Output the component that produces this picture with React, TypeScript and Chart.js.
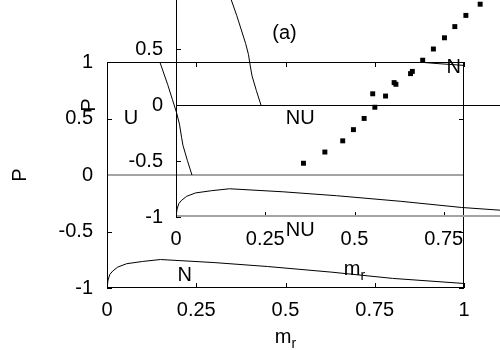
import React, { useEffect, useRef } from "react";
import { Chart, registerables } from "chart.js";

Chart.register(...registerables);

const FONT = "'Liberation Sans', Arial, Helvetica, sans-serif";

// axis ticks
const xTickValues = [0, 0.25, 0.5, 0.75, 1];
const xTickLabels = ["0", "0.25", "0.5", "0.75", "1"];
const yTickValues = [-1, -0.5, 0, 0.5, 1];
const yTickLabels = ["-1", "-0.5", "0", "0.5", "1"];

// U / NU boundary line (upper left)
const unBoundaryMr = [0.148, 0.17, 0.183, 0.195, 0.203, 0.209, 0.213, 0.225, 0.238];
const unBoundaryP = [1.0, 0.8, 0.67, 0.55, 0.45, 0.33, 0.26, 0.13, 0.0];

// lower N boundary curve
const nBoundaryMr = [0, 0.003, 0.008, 0.016, 0.03, 0.055, 0.1, 0.15, 0.3, 0.45, 0.63, 0.8, 1];
const nBoundaryP = [-1, -0.93, -0.88, -0.85, -0.815, -0.785, -0.765, -0.748, -0.775, -0.81, -0.86, -0.915, -0.96];

// short upper-right curve (main panel)
const topEdgeMr = [0.87, 0.93, 1.0];
const topEdgeP = [1.0, 0.985, 0.97];

// square markers (inset panel)
const squaresMr = [0.357, 0.417, 0.467, 0.497, 0.527, 0.557, 0.551, 0.587, 0.611, 0.616, 0.657, 0.662, 0.691, 0.721, 0.752, 0.781, 0.812, 0.852];
const squaresP = [-0.52, -0.42, -0.32, -0.22, -0.12, -0.02, 0.1, 0.08, 0.2, 0.185, 0.28, 0.3, 0.4, 0.5, 0.6, 0.7, 0.8, 0.9];

// region labels
const mainLabelText = ["U", "NU", "NU", "N", "N"];
const mainLabelMr = [0.067, 0.541, 0.541, 0.971, 0.218];
const mainLabelP = [0.504, 0.504, -0.487, 0.951, -0.889];
const insetLabelText = ["(a)"];
const insetLabelMr = [0.304];
const insetLabelP = [0.64];

const GRAY = "#a4a4a4";

const toXY = (xs: number[], ys: number[]) => xs.map((x, i) => ({ x, y: ys[i] }));

const framePlugin = {
  id: "frame",
  beforeDatasetsDraw(chart: any, _a: any, o: any) {
    const { ctx, chartArea: a, scales } = chart;
    const xs = scales.x;
    const ys = scales.y;
    ctx.save();
    ctx.lineWidth = 1;
    // ticks (inward, mirrored)
    ctx.strokeStyle = "#000";
    ctx.beginPath();
    for (const v of xTickValues) {
      const px = Math.round(xs.getPixelForValue(v)) + 0.5;
      ctx.moveTo(px, a.bottom);
      ctx.lineTo(px, a.bottom - 5);
      ctx.moveTo(px, a.top);
      ctx.lineTo(px, a.top + 5);
    }
    for (const v of yTickValues) {
      const py = Math.round(ys.getPixelForValue(v)) + 0.5;
      ctx.moveTo(a.left, py);
      ctx.lineTo(a.left + 5, py);
      ctx.moveTo(a.right, py);
      ctx.lineTo(a.right - 5, py);
    }
    ctx.stroke();
    const edge = (c: string, x1: number, y1: number, x2: number, y2: number) => {
      const gray = c !== "#000";
      ctx.strokeStyle = c;
      ctx.lineWidth = gray ? 2 : 1;
      const off = gray ? 0 : 0.5;
      ctx.beginPath();
      if (y1 === y2) {
        ctx.moveTo(x1, Math.round(y1) + off);
        ctx.lineTo(x2, Math.round(y2) + off);
      } else {
        ctx.moveTo(Math.round(x1) + off, y1);
        ctx.lineTo(Math.round(x2) + off, y2);
      }
      ctx.stroke();
    };
    // zero line
    const y0 = ys.getPixelForValue(0);
    edge(o.zeroColor, a.left, y0, a.right, y0);
    // borders
    edge(o.top, a.left, a.top, a.right, a.top);
    edge(o.bottom, a.left, a.bottom - 1, a.right, a.bottom - 1);
    edge(o.left, a.left, a.top, a.left, a.bottom);
    edge(o.right, a.right - 1, a.top, a.right - 1, a.bottom);
    ctx.restore();
  },
  afterDatasetsDraw(chart: any, _a: any, o: any) {
    const { ctx, chartArea: a, scales } = chart;
    const xs = scales.x;
    const ys = scales.y;
    ctx.save();
    ctx.fillStyle = "#000";
    ctx.font = `20px ${FONT}`;
    ctx.textAlign = "center";
    ctx.textBaseline = "middle";
    o.labels.text.forEach((t: string, i: number) => {
      ctx.fillText(t, xs.getPixelForValue(o.labels.mr[i]), ys.getPixelForValue(o.labels.p[i]));
    });
    // y title
    ctx.save();
    ctx.translate(a.left - 87, (a.top + a.bottom) / 2);
    ctx.rotate(-Math.PI / 2);
    ctx.fillText("P", 0, 0);
    ctx.restore();
    // x title m_r
    ctx.textAlign = "left";
    ctx.textBaseline = "alphabetic";
    ctx.font = `20px ${FONT}`;
    const wm = ctx.measureText("m").width;
    ctx.font = `14px ${FONT}`;
    const wr = ctx.measureText("r").width;
    const sx = (a.left + a.right) / 2 - (wm + wr) / 2;
    const by = a.bottom + o.titleOffset;
    ctx.font = `20px ${FONT}`;
    ctx.fillText("m", sx, by);
    ctx.font = `14px ${FONT}`;
    ctx.fillText("r", sx + wm, by + 5);
    ctx.restore();
  },
};

function makeChart(canvas: HTMLCanvasElement, cfg: any) {
  const area = cfg.area;
  return new Chart(canvas, {
    type: "scatter",
    data: { datasets: cfg.datasets },
    options: {
      responsive: false,
      animation: false,
      devicePixelRatio: 1,
      events: [],
      layout: { padding: { top: area.top, right: 500 - area.right, left: 0, bottom: 0 } },
      plugins: {
        legend: { display: false },
        tooltip: { enabled: false },
        frame: cfg.frame,
      } as any,
      scales: {
        x: {
          type: "linear",
          min: 0,
          max: 1,
          position: "bottom",
          grid: { display: false, drawTicks: false },
          border: { display: false },
          afterBuildTicks: (s: any) => {
            s.ticks = xTickValues.map((v) => ({ value: v }));
          },
          afterFit: (s: any) => {
            s.height = 350 - area.bottom;
          },
          ticks: {
            autoSkip: false,
            maxRotation: 0,
            padding: cfg.xPad,
            color: "#000",
            font: { family: FONT, size: 20 },
            callback: (_v: any, i: number) => xTickLabels[i],
          },
        },
        y: {
          type: "linear",
          min: -1,
          max: 1,
          position: "left",
          grid: { display: false, drawTicks: false },
          border: { display: false },
          afterBuildTicks: (s: any) => {
            s.ticks = yTickValues.map((v) => ({ value: v }));
          },
          afterFit: (s: any) => {
            s.width = area.left;
          },
          ticks: {
            autoSkip: false,
            padding: cfg.yPad,
            color: "#000",
            font: { family: FONT, size: 20 },
            callback: (_v: any, i: number) => yTickLabels[i],
          },
        },
      },
    } as any,
    plugins: [framePlugin as any],
  });
}

const lineDs = (xs: number[], ys: number[]) => ({
  data: toXY(xs, ys),
  showLine: true,
  borderColor: "#000",
  borderWidth: 1,
  pointRadius: 0,
  fill: false,
});

export default function App() {
  const mainRef = useRef<HTMLCanvasElement>(null);
  const insetRef = useRef<HTMLCanvasElement>(null);

  useEffect(() => {
    const main = makeChart(mainRef.current!, {
      area: { left: 107, top: 62, right: 464, bottom: 288 },
      xPad: 10,
      yPad: 14,
      datasets: [
        lineDs(unBoundaryMr, unBoundaryP),
        lineDs(nBoundaryMr, nBoundaryP),
        lineDs(topEdgeMr, topEdgeP),
      ],
      frame: {
        zeroColor: GRAY,
        top: "#000",
        bottom: "#000",
        left: "#000",
        right: "#000",
        titleOffset: 55,
        labels: { text: mainLabelText, mr: mainLabelMr, p: mainLabelP },
      },
    });
    const inset = makeChart(insetRef.current!, {
      area: { left: 107, top: 63, right: 464, bottom: 287 },
      xPad: 10,
      yPad: 13,
      datasets: [
        lineDs(unBoundaryMr, unBoundaryP),
        lineDs(nBoundaryMr, nBoundaryP),
        {
          data: toXY(squaresMr, squaresP),
          showLine: false,
          pointStyle: "rect",
          pointRadius: 3.5,
          backgroundColor: "#000",
          borderColor: "#000",
          borderWidth: 0,
        },
      ],
      frame: {
        zeroColor: "#000",
        top: "#000",
        bottom: GRAY,
        left: "#000",
        right: "#000",
        titleOffset: 58,
        labels: { text: insetLabelText, mr: insetLabelMr, p: insetLabelP },
      },
    });
    return () => {
      main.destroy();
      inset.destroy();
    };
  }, []);

  return (
    <div
      style={{
        position: "fixed",
        left: 0,
        top: 0,
        width: 500,
        height: 350,
        overflow: "hidden",
        background: "#fff",
      }}
    >
      <canvas
        ref={mainRef}
        width={500}
        height={350}
        style={{ position: "absolute", left: 0, top: 0, width: 500, height: 350 }}
      />
      <canvas
        ref={insetRef}
        width={500}
        height={350}
        style={{ position: "absolute", left: 69, top: -70, width: 500, height: 350 }}
      />
    </div>
  );
}
